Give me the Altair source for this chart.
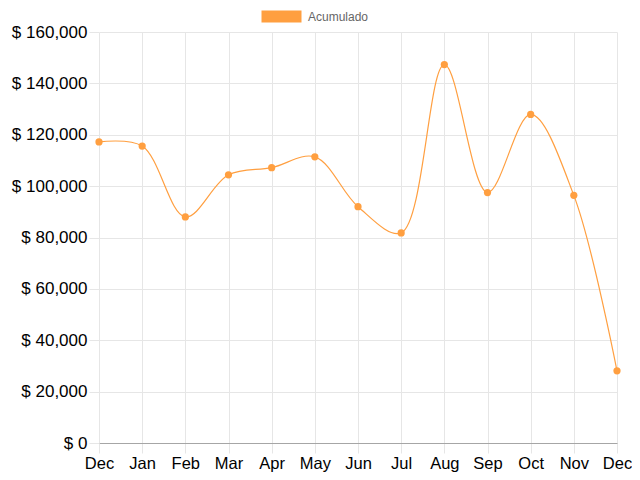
import altair as alt
import pandas as pd

months = ["Dec", "Jan", "Feb", "Mar", "Apr", "May", "Jun", "Jul", "Aug", "Sep", "Oct", "Nov", "Dec"]
values = [117200, 115600, 88000, 104400, 107200, 111400, 92000, 81800, 147300, 97500, 127900, 96400, 28100]
series = "Acumulado"
y_ticks = [0, 20000, 40000, 60000, 80000, 100000, 120000, 140000, 160000]

df = pd.DataFrame({"idx": list(range(len(months))), "month": months, "value": values, "series": series})

ORANGE = "#FF9F40"
FONT = "Liberation Sans"
label_js = "[" + ",".join("'%s'" % m for m in months) + "]"

x = alt.X(
    "idx:Q",
    scale=alt.Scale(domain=[0, len(months) - 1], nice=False, zero=False),
    axis=alt.Axis(
        values=list(range(len(months))),
        labelExpr=label_js + "[datum.value]",
        title=None,
        grid=True,
        gridColor="#e6e6e6",
        tickColor="#e6e6e6",
        tickSize=10,
        labelPadding=2,
        labelFontSize=16.5,
        labelFont=FONT,
        labelColor="#000000",
        labelFlush=False,
        labelOverlap=False,
        domainColor="#a6a6a6",
    ),
)
y = alt.Y(
    "value:Q",
    scale=alt.Scale(domain=[0, 160000], nice=False),
    axis=alt.Axis(
        values=y_ticks,
        labelExpr="'$ ' + format(datum.value, ',')",
        title=None,
        grid=True,
        gridColor="#e6e6e6",
        tickColor="#e6e6e6",
        tickSize=10,
        labelPadding=2,
        labelFontSize=17,
        labelFont=FONT,
        labelColor="#000000",
        domain=False,
    ),
)

color = alt.Color(
    "series:N",
    scale=alt.Scale(domain=[series], range=[ORANGE]),
    legend=alt.Legend(
        title=None,
        orient="none",
        legendX=162,
        legendY=-22,
        symbolType="M-1,-1H5.667V1H-1Z",
        symbolSize=144,
        symbolOpacity=1,
        symbolStrokeWidth=1,
        labelFont=FONT,
        labelFontSize=12,
        labelColor="#666666",
        labelOffset=34,
        padding=0,
    ),
)

base = alt.Chart(df)
line = base.mark_line(interpolate="catmull-rom", strokeWidth=1.2, color=ORANGE).encode(x=x, y=y)
pts = base.mark_circle(size=52, opacity=1).encode(x=x, y=y, color=color)

chart = (
    alt.layer(line, pts)
    .properties(
        width=624,
        height=464,
        padding={"left": 3, "top": 15, "right": 0, "bottom": 0},
        autosize=alt.AutoSizeParams(type="fit", contains="padding"),
    )
    .configure_view(stroke=None)
)

chart.save("out.html", embed_options={"renderer": "svg", "actions": False})
